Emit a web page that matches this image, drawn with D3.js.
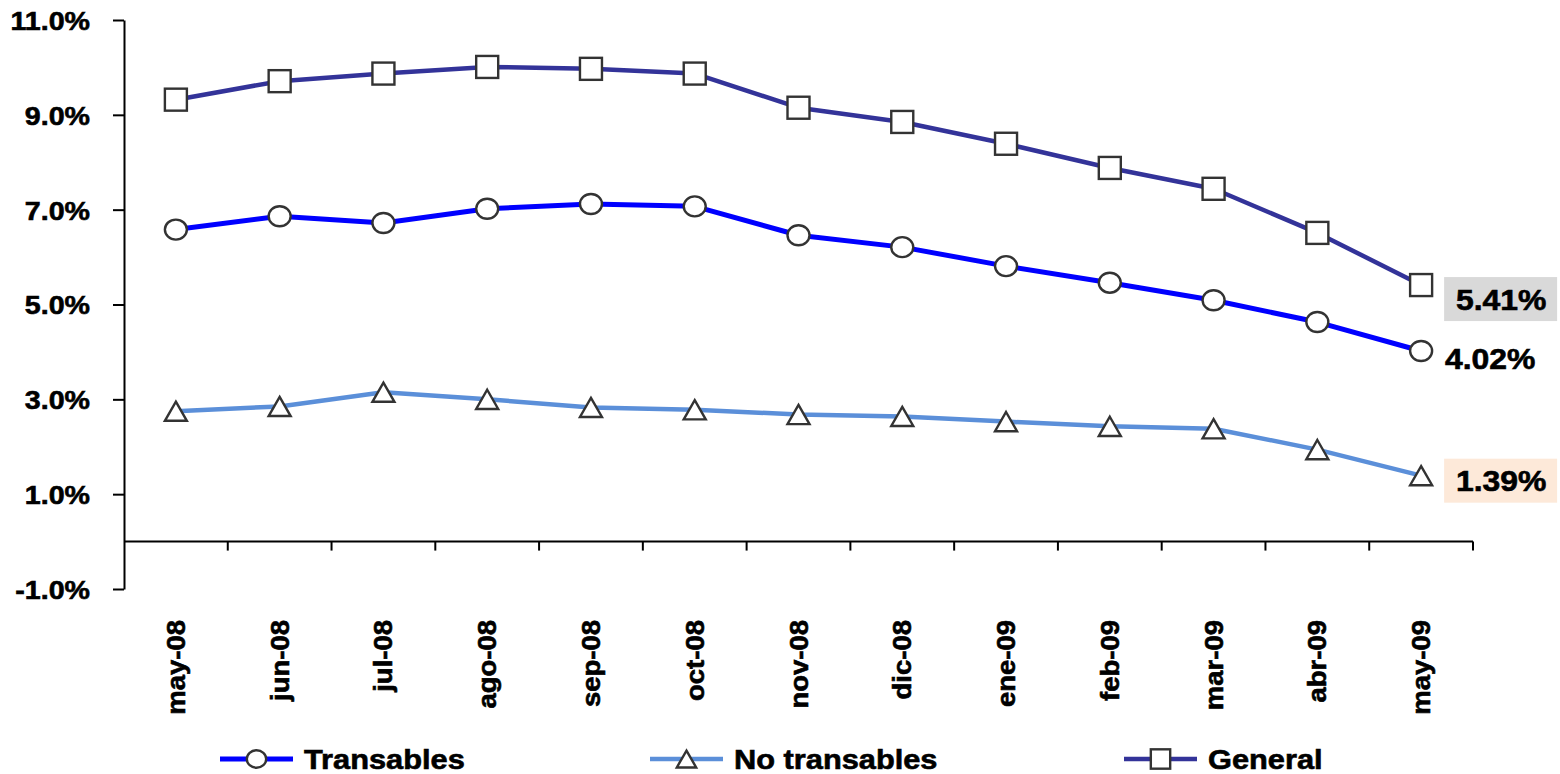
<!DOCTYPE html>
<html>
<head>
<meta charset="utf-8">
<script src="https://cdn.jsdelivr.net/npm/d3@7"></script>
<style>
  body { margin: 0; background: #fff; }
  text { font-family: "Liberation Sans", Arial, sans-serif; font-weight: bold; fill: #000;
         stroke: #000; stroke-width: 0.6px; }
</style>
</head>
<body>
<div id="chart"></div>
<script>
// data
var months = ["may-08", "jun-08", "jul-08", "ago-08", "sep-08", "oct-08", "nov-08",
  "dic-08", "ene-09", "feb-09", "mar-09", "abr-09", "may-09"];
var transables = [6.58, 6.86, 6.72, 7.02, 7.12, 7.07, 6.46, 6.21, 5.81, 5.46, 5.09, 4.63, 4.02];
var noTransables = [2.75, 2.85, 3.15, 3.00, 2.83, 2.78, 2.68, 2.64, 2.53, 2.43, 2.38, 1.94, 1.39];
var general = [9.32, 9.71, 9.87, 10.01, 9.97, 9.87, 9.15, 8.85, 8.39, 7.88, 7.44, 6.51, 5.41];
var yTicks = [-1, 1, 3, 5, 7, 9, 11];
var seriesNames = ["Transables", "No transables", "General"];
var lastLabels = ["4.02%", "1.39%", "5.41%"];

var width = 1560;
var height = 774;
var sx = 1.1; // text is drawn a bit wide in the original

var series = [
  { name: seriesNames[0], values: transables, color: "#0000ff", lw: 5, marker: "circle",
    label: lastLabels[0], box: null, dy: 8 },
  { name: seriesNames[1], values: noTransables, color: "#5b8fd9", lw: 4.5, marker: "triangle",
    label: lastLabels[1], box: "#fde9d9", dy: 5 },
  { name: seriesNames[2], values: general, color: "#333399", lw: 4.5, marker: "square",
    label: lastLabels[2], box: "#d9d9d9", dy: 14 }
];

var svg = d3.select("#chart").append("svg")
  .attr("width", width)
  .attr("height", height);

// scales
var xScale = d3.scaleBand()
  .domain(months)
  .range([124, 1473])
  .paddingInner(0)
  .paddingOuter(0);
var bw = xScale.bandwidth();
function cx(i) { return xScale(months[i]) + bw / 2; }

var yScale = d3.scaleLinear()
  .domain([-1, 11])
  .range([589, 20]);

// y axis
var yAxis = d3.axisLeft(yScale)
  .tickValues(yTicks)
  .tickSize(11)
  .tickSizeOuter(0)
  .tickFormat(function(d) { return d.toFixed(1) + "%"; });

var gy = svg.append("g")
  .attr("transform", "translate(124,0)")
  .call(yAxis);
gy.select(".domain").attr("stroke", "#000").attr("stroke-width", 2);
gy.selectAll(".tick line").attr("stroke", "#000").attr("stroke-width", 2);
gy.selectAll(".tick text")
  .attr("x", 0)
  .attr("dy", "0.36em")
  .attr("font-size", 26)
  .attr("font-family", "Liberation Sans, Arial, sans-serif")
  .attr("font-weight", "bold")
  .attr("fill", "#000")
  .attr("transform", "translate(-34,0) scale(" + sx + ",1)");

// x axis on the zero line
var y0 = yScale(0);
svg.append("line")
  .attr("x1", 124).attr("x2", 1473)
  .attr("y1", y0).attr("y2", y0)
  .attr("stroke", "#000").attr("stroke-width", 2);

svg.selectAll(".xtick")
  .data(months)
  .enter()
  .append("line")
  .attr("class", "xtick")
  .attr("x1", function(d) { return xScale(d) + bw; })
  .attr("x2", function(d) { return xScale(d) + bw; })
  .attr("y1", y0)
  .attr("y2", y0 + 9)
  .attr("stroke", "#000").attr("stroke-width", 2);

svg.selectAll(".xlabel")
  .data(months)
  .enter()
  .append("text")
  .attr("class", "xlabel")
  .attr("text-anchor", "end")
  .attr("dy", "0.36em")
  .attr("font-size", 25)
  .attr("transform", function(d, i) {
    return "translate(" + cx(i) + ",620) rotate(-90) scale(" + sx + ",1)";
  })
  .text(function(d) { return d; });

// markers
function drawMarker(g, type, x, y, s) {
  var m;
  if (type === "circle") {
    m = g.append("ellipse").attr("cx", x).attr("cy", y).attr("rx", 11 * s).attr("ry", 10 * s);
  }
  else if (type === "square") {
    m = g.append("rect").attr("x", x - 11 * s).attr("y", y - 11 * s)
      .attr("width", 22 * s).attr("height", 22 * s);
  }
  else {
    var w = 11 * s, h = 9.6 * s;
    m = g.append("path")
      .attr("d", "M" + x + "," + (y - h) + "L" + (x + w) + "," + (y + h) + "L" + (x - w) + "," + (y + h) + "Z");
  }
  m.attr("fill", "#fff").attr("stroke", "#333").attr("stroke-width", 2.4);
}

var line = d3.line()
  .x(function(d, i) { return cx(i); })
  .y(function(d) { return yScale(d); });

// draw bottom series first so General sits on top like the original
[1, 0, 2].forEach(function(k) {
  var s = series[k];
  var g = svg.append("g");
  g.append("path")
    .datum(s.values)
    .attr("d", line)
    .attr("fill", "none")
    .attr("stroke", s.color)
    .attr("stroke-width", s.lw)
    .attr("stroke-linejoin", "round");
  s.values.forEach(function(v, i) {
    drawMarker(g, s.marker, cx(i), yScale(v), 1);
  });

  // label for the last point
  var last = s.values.length - 1;
  var lx = cx(last) + 23;
  var ly = yScale(s.values[last]) + s.dy;
  if (s.box) {
    g.append("rect")
      .attr("x", lx).attr("y", ly - 22)
      .attr("width", 113).attr("height", 44)
      .attr("fill", s.box);
  }
  g.append("text")
    .attr("text-anchor", "middle")
    .attr("dy", "0.36em")
    .attr("font-size", 29)
    .attr("transform", "translate(" + (lx + 56 + (s.box ? 1 : -10)) + "," + ly + ") scale(" + sx + ",1)")
    .text(s.label);
});

// legend
var legendX = [220, 650, 1124];
var legendY = 759;
var legend = svg.selectAll(".legend")
  .data(series)
  .enter()
  .append("g")
  .attr("class", "legend")
  .attr("transform", function(d, i) { return "translate(" + legendX[i] + "," + legendY + ")"; });

legend.append("line")
  .attr("x1", 0).attr("x2", 73)
  .attr("y1", 0).attr("y2", 0)
  .attr("stroke", function(d) { return d.color; })
  .attr("stroke-width", function(d) { return d.lw; });

legend.each(function(d) {
  drawMarker(d3.select(this), d.marker, 36.5, 0, 0.88);
});

legend.append("text")
  .attr("y", 10)
  .attr("font-size", 27)
  .attr("transform", "translate(84,0) scale(1.14,1)")
  .text(function(d) { return d.name; });
</script>
</body>
</html>
